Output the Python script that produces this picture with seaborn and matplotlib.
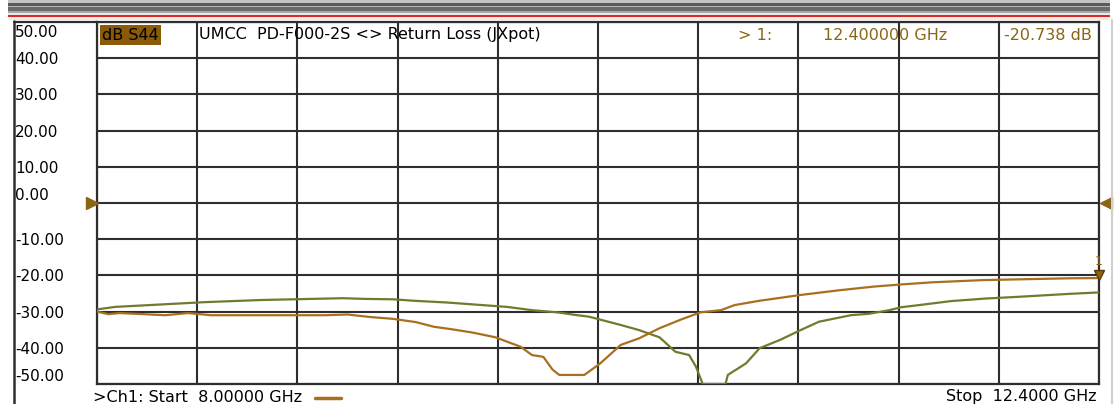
"""
VNA screenshot recreation: S44 return loss, 8.0 - 12.4 GHz
"""
import matplotlib
matplotlib.use("Agg")
import matplotlib.pyplot as plt
import matplotlib.transforms as mtransforms
from matplotlib.lines import Line2D
from matplotlib.patches import Rectangle
import numpy as np
import pandas as pd
import seaborn as sns

# ---------- data ----------
freq_s44 = [8.00, 8.05, 8.10, 8.30, 8.40, 8.50, 9.00, 9.10, 9.20, 9.30,
            9.40, 9.48, 9.55, 9.65, 9.75, 9.80, 9.86, 9.91, 9.96, 10.00,
            10.03, 10.14, 10.21, 10.30, 10.38, 10.47, 10.56, 10.65, 10.74, 10.80,
            10.91, 11.09, 11.26, 11.41, 11.53, 11.67, 11.89, 12.27, 12.40]
s44_db = [-30.0, -30.7, -30.4, -31.0, -30.4, -31.0, -31.0, -30.8, -31.5, -32.0,
          -32.9, -34.2, -34.8, -35.8, -37.1, -38.3, -39.7, -42.0, -42.5, -46.0,
          -47.5, -47.5, -44.3, -39.2, -37.4, -34.6, -32.3, -30.2, -29.6, -28.2,
          -27.0, -25.4, -24.1, -23.1, -22.5, -21.9, -21.3, -20.8, -20.738]

freq_tr2 = [8.00, 8.08, 8.29, 8.47, 8.72, 9.08, 9.18, 9.30, 9.39, 9.54,
            9.80, 9.91, 10.02, 10.11, 10.16, 10.30, 10.38, 10.47, 10.54, 10.60,
            10.63, 10.66, 10.76, 10.77, 10.85, 10.91, 11.00, 11.09, 11.17, 11.31,
            11.39, 11.48, 11.53, 11.61, 11.75, 11.90, 12.05, 12.27, 12.40]
tr2_db = [-29.4, -28.7, -28.0, -27.4, -26.8, -26.3, -26.5, -26.6, -27.0, -27.5,
          -28.7, -29.6, -30.2, -31.0, -31.4, -33.7, -35.1, -37.1, -41.1, -42.0,
          -45.2, -50.0, -50.0, -47.5, -44.3, -40.1, -37.8, -35.1, -32.8, -31.0,
          -30.6, -29.6, -28.8, -28.2, -27.1, -26.4, -25.9, -25.1, -24.7]

f_start, f_stop = 8.0, 12.4
y_ticks = [50, 40, 30, 20, 10, 0, -10, -20, -30, -40, -50]
y_labels = [f"{v:.2f}" for v in y_ticks]
marker_freq = 12.4

BROWN = "#a8701e"
OLIVE = "#737a2d"
TXT_BROWN = "#8b6514"
GRID = "#2e2e2e"

W, H = 1120, 404

sns.set_style("white")
plt.rcParams["font.family"] = "DejaVu Sans"
plt.rcParams["text.color"] = "black"
plt.rcParams["ytick.color"] = "black"

fig = plt.figure(figsize=(W / 100, H / 100), dpi=100)
fig.patch.set_facecolor("white")


def fx(x):
    return x / W


def fy(y):
    return 1 - y / H


ax = fig.add_axes([fx(97), fy(384), (1099 - 97) / W, (384 - 22) / H])

df = pd.concat([
    pd.DataFrame({"freq": freq_tr2, "db": tr2_db, "trace": "tr2"}),
    pd.DataFrame({"freq": freq_s44, "db": s44_db, "trace": "S44"}),
])
sns.lineplot(data=df, x="freq", y="db", hue="trace", palette={"S44": BROWN, "tr2": OLIVE},
             ax=ax, lw=1.6, legend=False, estimator=None, sort=False, zorder=3)

ax.set_xlim(f_start, f_stop)
ax.set_ylim(-50, 50)
ax.set_xticks(np.linspace(f_start, f_stop, 11))
ax.set_xticklabels([])
ax.set_yticks(y_ticks)
ax.set_yticklabels(y_labels, ha="left", fontsize=11, color="black")
ax.tick_params(axis="y", length=0, pad=59)
ax.tick_params(axis="x", length=0)
ax.set_xlabel("")
ax.set_ylabel("")
ax.grid(True, color=GRID, lw=1.5, zorder=1)
ax.set_axisbelow(True)
for s in ax.spines.values():
    s.set_color(GRID)
    s.set_linewidth(1.6)

# end labels sit inside the row instead of on the line
for lab, v in zip(ax.get_yticklabels(), y_ticks):
    if v == 50:
        lab.set_va("top")
        lab.set_transform(lab.get_transform() + mtransforms.Affine2D().translate(0, -3))
    elif v in (0, -50):
        lab.set_va("bottom")

# header row
hy = (384 - 35) / 362
ax.text(0.005, hy, "dB S44", transform=ax.transAxes, fontsize=11.5, va="center", ha="left",
        color="black", zorder=5,
        bbox=dict(boxstyle="square,pad=0.15", fc="#8a5a08", ec="none"))
ax.text((199 - 97) / 1002, hy, "UMCC  PD-F000-2S <> Return Loss (JXpot)", transform=ax.transAxes,
        fontsize=11.5, va="center", ha="left", color="black", zorder=5)
ax.text((738 - 97) / 1002, hy, "> 1:", transform=ax.transAxes, fontsize=11.5, va="center",
        ha="left", color=TXT_BROWN, zorder=5)
ax.text((823 - 97) / 1002, hy, f"{marker_freq:.6f} GHz", transform=ax.transAxes, fontsize=11.5,
        va="center", ha="left", color=TXT_BROWN, zorder=5)
ax.text((1004 - 97) / 1002, hy, f"{s44_db[-1]:.3f} dB", transform=ax.transAxes, fontsize=11.5,
        va="center", ha="left", color=TXT_BROWN, zorder=5)

# reference level arrows at 0 dB and marker 1
left_off = mtransforms.offset_copy(ax.transData, fig=fig, x=-5, y=0, units="dots")
right_off = mtransforms.offset_copy(ax.transData, fig=fig, x=7, y=0, units="dots")
ax.plot([f_start], [0], marker=">", ms=8, color=TXT_BROWN, transform=left_off, clip_on=False, zorder=6)
ax.plot([f_stop], [0], marker="<", ms=8, color=TXT_BROWN, transform=right_off, clip_on=False, zorder=6)
mk_off = mtransforms.offset_copy(ax.transData, fig=fig, x=0, y=3, units="dots")
ax.plot([marker_freq], [s44_db[-1]], marker="v", ms=7, color=TXT_BROWN, mec="#5a3a00",
        transform=mk_off, clip_on=False, zorder=6)
ax.text(marker_freq, s44_db[-1], "1",
        transform=mtransforms.offset_copy(ax.transData, fig=fig, x=0, y=17, units="dots"),
        fontsize=9, color=TXT_BROWN, ha="center", va="center", clip_on=False, zorder=6)

# window chrome: title stripes and red rule
stripes = [(0, 3, "#c4c4c4"), (3, 6, "#5a5a5a"), (6, 7, "#b8b8b8"), (7, 11, "#6a6a6a"),
           (11, 13, "#a8a8a8"), (13, 15, "#e8e8e8"), (15, 17, "#e02828"), (17, 20, "#f2eee2")]
for y0, y1, c in stripes:
    fig.add_artist(Rectangle((fx(8), fy(y1)), fx(1110 - 8), (y1 - y0) / H,
                             transform=fig.transFigure, fc=c, ec="none"))

# frame around the scale area
fig.add_artist(Line2D([fx(14), fx(14)], [fy(21), 0], transform=fig.transFigure, color=GRID, lw=1.8))
fig.add_artist(Line2D([fx(14), fx(97)], [fy(21.5), fy(21.5)], transform=fig.transFigure, color=GRID, lw=1.6))
fig.add_artist(Line2D([fx(1112), fx(1112)], [fy(20), 0], transform=fig.transFigure, color="#cfcfcf", lw=1.5))

# footer
fig.text(fx(93), fy(397), ">Ch1: Start  8.00000 GHz", fontsize=11.5, va="center", ha="left", color="black")
fig.add_artist(Line2D([fx(315), fx(341)], [fy(398), fy(398)], transform=fig.transFigure, color=BROWN, lw=2.5))
fig.text(fx(1097), fy(397), "Stop  12.4000 GHz", fontsize=11.5, va="center", ha="right", color="black")

fig.savefig("out.png", dpi=100, facecolor="white")
